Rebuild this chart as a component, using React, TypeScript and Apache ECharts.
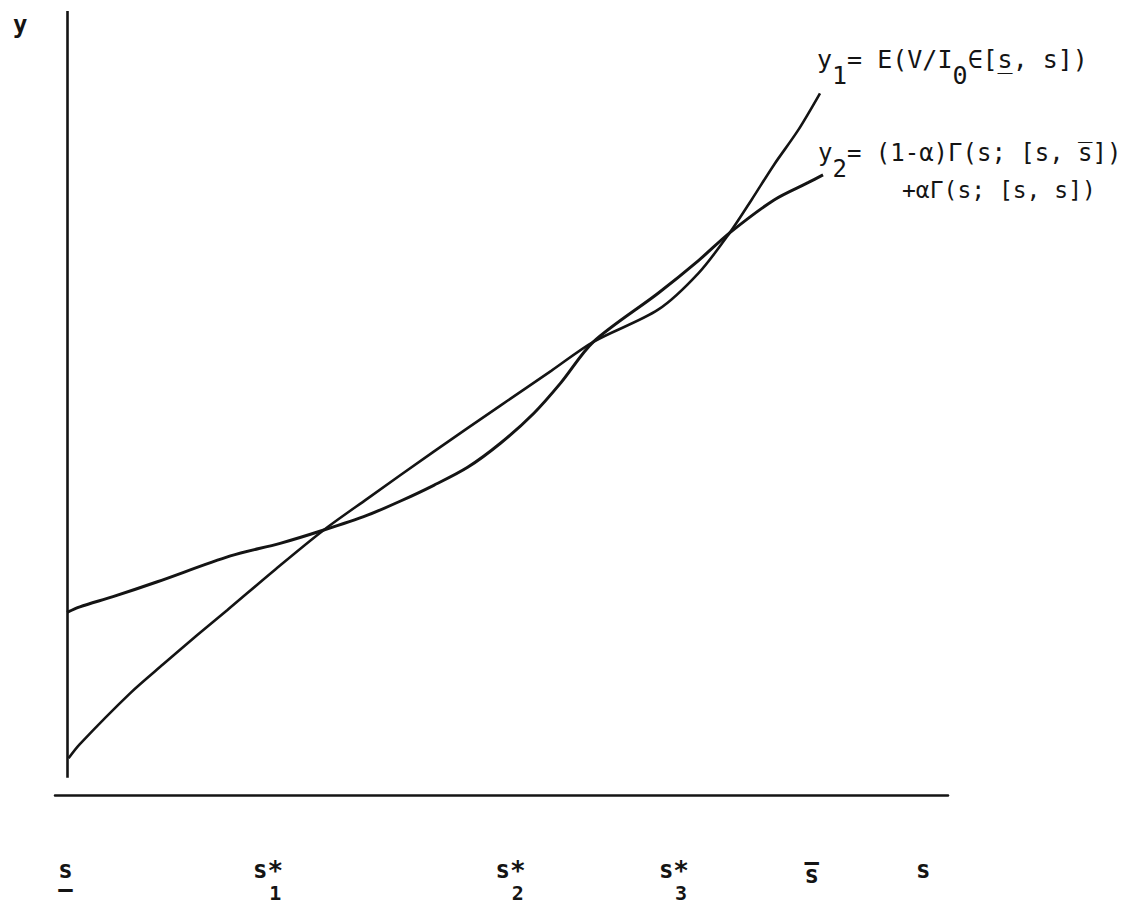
import React, { useEffect, useRef } from "react";
import * as echarts from "echarts";

// Curve y1 = E(V/I0 ∈ [s_, s])
const y1X = [0.2, 1.7, 8.4, 12.8, 17.3, 21.3, 27.7, 34.1, 39.9, 48.7, 57.6, 64.3, 69.9, 78.5, 83.9, 88.0, 90.9, 93.9, 97.1, 100.0];
const y1Y = [4.7, 6.5, 13.0, 16.7, 20.4, 23.6, 28.8, 33.8, 37.8, 43.8, 49.7, 54.1, 57.8, 61.9, 66.6, 71.7, 75.9, 80.4, 84.8, 89.5];

// Curve y2 = (1-α)Γ(s;[s, s̄]) + αΓ(s;[s,s])
const y2X = [0, 1.7, 6.1, 12.0, 21.7, 28.3, 34.1, 39.9, 44.3, 48.7, 53.2, 57.6, 62.0, 65.6, 69.9, 78.5, 83.9, 88.0, 93.9, 98.4, 100.4];
const y2Y = [23.3, 24.0, 25.3, 27.2, 30.5, 32.1, 33.8, 35.7, 37.5, 39.5, 41.8, 44.9, 48.7, 52.6, 57.8, 64.0, 68.2, 71.7, 75.9, 78.1, 79.1];

// x-axis tick positions and labels
const xTickValues = [-0.2, 26.7, 58.9, 80.6, 98.9, 113.7];
const xTickLabels = [
  "{a|\u00a0}\n{m|s}\n{ln|–}",
  "{a|\u00a0}\n{m|s}{sup|*}\n{sp|\u00a0}{sub|1}",
  "{a|\u00a0}\n{m|s}{sup|*}\n{sp|\u00a0}{sub|2}",
  "{a|\u00a0}\n{m|s}{sup|*}\n{sp|\u00a0}{sub|3}",
  "{gap|\u00a0}\n{ov|–}\n{m|s}",
  "{a|\u00a0}\n{m|s}\n{sp|\u00a0}",
];

// y-axis line extent (data units)
const yAxisLine = [2.2, 100];

const MONO = "'DejaVu Sans Mono', 'Liberation Mono', monospace";
const INK = "#141414";

export default function App() {
  const ref = useRef<HTMLDivElement>(null);

  useEffect(() => {
    document.body.style.margin = "0";
    if (!ref.current) return;
    const chart = echarts.init(ref.current, undefined, { renderer: "svg" });

    const richFor = (size: number) => ({
      m: { fontFamily: MONO, fontSize: size, lineHeight: size, verticalAlign: "top", fill: INK, color: INK },
      sub: { fontFamily: MONO, fontSize: size, lineHeight: size + 32, verticalAlign: "middle", fill: INK, color: INK },
      ul: { fontFamily: MONO, fontSize: size, lineHeight: size, verticalAlign: "top", width: 0.001, align: "left", fill: INK, color: INK },
    });

    const bold = { fontFamily: MONO, fontWeight: "bold", color: INK };

    const option: any = {
      animation: false,
      backgroundColor: "#ffffff",
      grid: { left: 55, right: 189, top: 11, bottom: 110 },
      xAxis: {
        type: "value",
        min: -1.6,
        max: 117,
        axisLine: { show: true, onZero: false, lineStyle: { color: INK, width: 2.5 } },
        axisTick: { show: false },
        splitLine: { show: false },
        axisLabel: {
          customValues: xTickValues,
          margin: 55,
          color: INK,
          formatter: (v: number) => {
            let best = 0;
            xTickValues.forEach((t, i) => {
              if (Math.abs(t - v) < Math.abs(xTickValues[best] - v)) best = i;
            });
            return xTickLabels[best];
          },
          rich: {
            a: { ...bold, fontSize: 24, lineHeight: 8 },
            gap: { ...bold, fontSize: 24, lineHeight: 11 },
            ov: { ...bold, fontSize: 24, lineHeight: 2 },
            m: { ...bold, fontSize: 24, lineHeight: 24, verticalAlign: "bottom" },
            sup: { ...bold, fontSize: 26, lineHeight: 3, verticalAlign: "top" },
            ln: { ...bold, fontSize: 24, lineHeight: 14 },
            sp: { ...bold, fontSize: 24, lineHeight: 22 },
            sub: { ...bold, fontSize: 20, lineHeight: 22 },
          },
        },
      },
      yAxis: {
        type: "value",
        min: 0,
        max: 100,
        axisLine: { show: false },
        axisTick: { show: false },
        axisLabel: { show: false },
        splitLine: { show: false },
      },
      series: [
        {
          name: "y1",
          type: "line",
          data: y1X.map((x, i) => [x, y1Y[i]]),
          smooth: 0.3,
          showSymbol: false,
          lineStyle: { color: INK, width: 2.6 },
          markLine: {
            silent: true,
            symbol: ["none", "none"],
            label: { show: false },
            lineStyle: { color: INK, width: 2.6, type: "solid" },
            data: [[{ coord: [0, yAxisLine[0]] }, { coord: [0, yAxisLine[1]] }]],
          },
        },
        {
          name: "y2",
          type: "line",
          data: y2X.map((x, i) => [x, y2Y[i]]),
          smooth: 0.3,
          showSymbol: false,
          lineStyle: { color: INK, width: 3 },
        },
      ],
      graphic: [
        {
          type: "text",
          x: 13,
          y: 25,
          style: {
            text: "y",
            fontFamily: MONO,
            fontSize: 24,
            fontWeight: "bold",
            fill: INK,
            align: "left",
            verticalAlign: "middle",
          },
        },
        {
          type: "text",
          x: 817,
          y: 47,
          style: {
            text: "{m|y}{sub|1}{m|= E(V/I}{sub|0}{m|∈[}{ul|_}{m|s, s])}",
            rich: richFor(25),
            fontFamily: MONO,
            fontSize: 25,
            fill: INK,
            align: "left",
            verticalAlign: "top",
          },
        },
        {
          type: "text",
          x: 818,
          y: 141,
          style: {
            text: "{m|y}{sub|2}{m|= (1-α)Γ(s; [s, s\u0305])}",
            rich: richFor(24),
            fontFamily: MONO,
            fontSize: 24,
            fill: INK,
            align: "left",
            verticalAlign: "top",
          },
        },
        {
          type: "text",
          x: 902,
          y: 178,
          style: {
            text: "+αΓ(s; [s, s])",
            fontFamily: MONO,
            fontSize: 23,
            fill: INK,
            align: "left",
            verticalAlign: "top",
          },
        },
      ],
    };

    chart.setOption(option);
    return () => chart.dispose();
  }, []);

  return <div ref={ref} style={{ width: 1137, height: 905 }} />;
}
